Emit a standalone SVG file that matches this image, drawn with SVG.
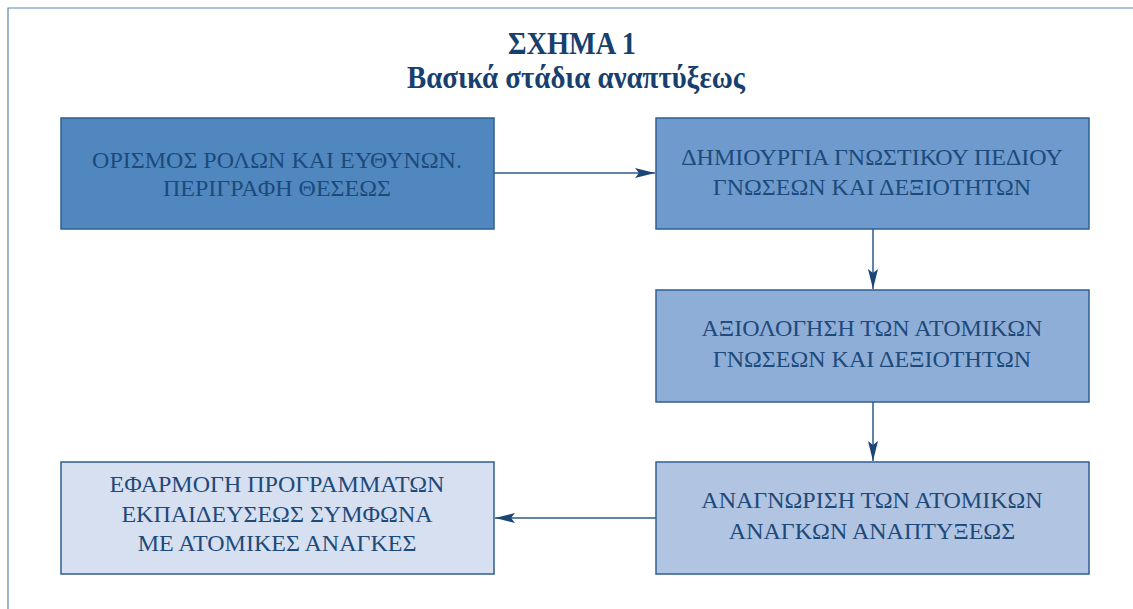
<svg xmlns="http://www.w3.org/2000/svg" width="1133" height="609" viewBox="0 0 1133 609">
<style>
.frame{fill:none;stroke:#5b87b5;stroke-width:1.2}
.box{stroke:#2f5f90;stroke-width:1.5}
.t{font-family:"Liberation Serif","DejaVu Serif",serif;font-size:24px;fill:#1d4a7a;text-anchor:middle}
.title{font-family:"Liberation Serif","DejaVu Serif",serif;fill:#17406e;text-anchor:middle;font-weight:bold}
.conn{stroke:#2c5a8a;stroke-width:1.5;fill:none}
</style>
<defs>
<marker id="ah" viewBox="0 0 20 10" refX="20" refY="5" markerWidth="20" markerHeight="10" markerUnits="userSpaceOnUse" orient="auto">
<path d="M0,0 L20,5 L0,10 L4,5 Z" fill="#1b4575"/>
</marker>
</defs>
<rect width="1133" height="609" fill="#ffffff"/>
<path class="frame" d="M8,609 L8,8 L1133,8"/>
<g id="title">
<text class="title" x="572" y="54" font-size="32" textLength="128" lengthAdjust="spacingAndGlyphs">ΣΧΗΜΑ 1</text>
<text class="title" x="576" y="88" font-size="31" textLength="338" lengthAdjust="spacingAndGlyphs">Βασικά στάδια αναπτύξεως</text>
</g>
<g id="connectors">
<line class="conn" x1="494" y1="173" x2="655" y2="173" marker-end="url(#ah)"/>
<line class="conn" x1="873" y1="229" x2="873" y2="289" marker-end="url(#ah)"/>
<line class="conn" x1="873" y1="402" x2="873" y2="461" marker-end="url(#ah)"/>
<line class="conn" x1="656" y1="518" x2="495" y2="518" marker-end="url(#ah)"/>
</g>
<g id="node1">
<rect class="box" x="61" y="118" width="433" height="111" fill="#5087bf"/>
<text class="t" x="277" y="168">ΟΡΙΣΜΟΣ ΡΟΛΩΝ ΚΑΙ ΕΥΘΥΝΩΝ.</text>
<text class="t" x="277" y="196">ΠΕΡΙΓΡΑΦΗ ΘΕΣΕΩΣ</text>
</g>
<g id="node2">
<rect class="box" x="656" y="118" width="433" height="111" fill="#6e9acd"/>
<text class="t" x="872" y="165">ΔΗΜΙΟΥΡΓΙΑ ΓΝΩΣΤΙΚΟΥ ΠΕΔΙΟΥ</text>
<text class="t" x="872" y="195">ΓΝΩΣΕΩΝ ΚΑΙ ΔΕΞΙΟΤΗΤΩΝ</text>
</g>
<g id="node3">
<rect class="box" x="656" y="290" width="433" height="112" fill="#8faed7"/>
<text class="t" x="872" y="336">ΑΞΙΟΛΟΓΗΣΗ ΤΩΝ ΑΤΟΜΙΚΩΝ</text>
<text class="t" x="872" y="367">ΓΝΩΣΕΩΝ ΚΑΙ ΔΕΞΙΟΤΗΤΩΝ</text>
</g>
<g id="node4">
<rect class="box" x="656" y="462" width="433" height="112" fill="#b1c4e2"/>
<text class="t" x="872" y="508">ΑΝΑΓΝΩΡΙΣΗ ΤΩΝ ΑΤΟΜΙΚΩΝ</text>
<text class="t" x="872" y="539">ΑΝΑΓΚΩΝ ΑΝΑΠΤΥΞΕΩΣ</text>
</g>
<g id="node5">
<rect class="box" x="61" y="462" width="433" height="112" fill="#d6e0f0"/>
<text class="t" x="277" y="492">ΕΦΑΡΜΟΓΗ ΠΡΟΓΡΑΜΜΑΤΩΝ</text>
<text class="t" x="277" y="522">ΕΚΠΑΙΔΕΥΣΕΩΣ ΣΥΜΦΩΝΑ</text>
<text class="t" x="277" y="551">ΜΕ ΑΤΟΜΙΚΕΣ ΑΝΑΓΚΕΣ</text>
</g>
</svg>
